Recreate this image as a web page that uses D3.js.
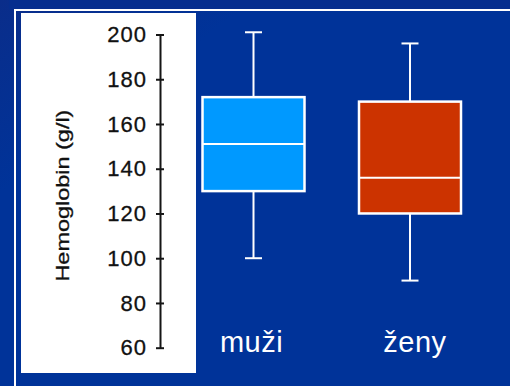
<!DOCTYPE html>
<html>
<head>
<meta charset="utf-8">
<script src="https://cdn.jsdelivr.net/npm/d3@7"></script>
<style>
  html, body { margin: 0; padding: 0; background: #003399; }
  svg { display: block; }
</style>
</head>
<body>
<script>
// data
const groups = ['muži', 'ženy'];
const mins = [100, 90];
const q1s = [130, 120];
const medians = [151, 136];
const q3s = [172, 170];
const maxs = [201, 196];
const tickValues = [60, 80, 100, 120, 140, 160, 180, 200];
const yLabel = 'Hemoglobin (g/l)';
const boxColours = ['#0099ff', '#cc3300'];

const width = 510;
const height = 386;

const svg = d3.select('body')
    .append('svg')
        .attr('width', width)
        .attr('height', height);

// background with slightly darker top band
const defs = svg.append('defs');
const grad = defs.append('linearGradient')
    .attr('id', 'bg')
    .attr('x1', 0).attr('y1', 0).attr('x2', 0.25).attr('y2', 0.25);
grad.append('stop').attr('offset', '0%').attr('stop-color', '#0a2d8a');
grad.append('stop').attr('offset', '100%').attr('stop-color', '#003399');

svg.append('rect')
    .attr('width', width)
    .attr('height', height)
    .attr('fill', 'url(#bg)');

svg.append('rect')
    .attr('x', 9)
    .attr('y', 0)
    .attr('width', width)
    .attr('height', 9)
    .attr('fill', '#062e8e');

// white outer frame line
svg.append('path')
    .attr('d', `M15,${height + 5} V10 H${width + 5}`)
    .attr('fill', 'none')
    .attr('stroke', '#ffffff')
    .attr('stroke-width', 2);

// white panel behind the axis
svg.append('rect')
    .attr('x', 21)
    .attr('y', 13)
    .attr('width', 175)
    .attr('height', 360)
    .attr('fill', '#ffffff');

// scales
const yScale = d3.scaleLinear()
    .domain([60, 200])
    .range([347.7, 34.5]);

const xScale = d3.scalePoint()
    .domain(groups)
    .range([253.5, 410]);

const boxWidth = 102;
const capWidth = 17;

// y axis
const axisG = svg.append('g')
    .attr('transform', 'translate(160, 0)')
    .call(d3.axisLeft(yScale)
        .tickValues(tickValues)
        .tickSizeOuter(0)
        .tickPadding(7));

axisG.select('.domain')
    .attr('stroke', '#151515')
    .attr('stroke-width', 2);

axisG.selectAll('.tick line')
    .attr('x1', -4)
    .attr('x2', 4)
    .attr('stroke', '#151515')
    .attr('stroke-width', 2);

axisG.selectAll('.tick text')
    .attr('fill', '#111')
    .attr('stroke', '#111')
    .attr('stroke-width', 0.3)
    .style('font-family', '"Liberation Sans", Arial, sans-serif')
    .style('font-size', '22px')
    .style('letter-spacing', '1px');

svg.append('text')
    .attr('transform', `translate(69, ${yScale(128)}) rotate(-90)`)
    .attr('text-anchor', 'middle')
    .attr('fill', '#111')
    .attr('stroke', '#111')
    .attr('stroke-width', 0.3)
    .attr('textLength', 172)
    .attr('lengthAdjust', 'spacingAndGlyphs')
    .style('font-family', '"Liberation Sans", Arial, sans-serif')
    .style('font-size', '19px')
    .text(yLabel);

// box plots
const boxData = groups.map((g, i) => ({
    group: g,
    min: mins[i],
    q1: q1s[i],
    median: medians[i],
    q3: q3s[i],
    max: maxs[i],
    colour: boxColours[i]
}));

const boxes = svg.selectAll('g.box')
    .data(boxData)
    .enter()
        .append('g')
            .attr('class', 'box')
            .attr('transform', (d) => `translate(${xScale(d.group)}, 0)`);

boxes.append('line')
    .attr('x1', 0).attr('x2', 0)
    .attr('y1', (d) => yScale(d.max))
    .attr('y2', (d) => yScale(d.q3))
    .attr('stroke', '#ffffff')
    .attr('stroke-width', 2);

boxes.append('line')
    .attr('x1', 0).attr('x2', 0)
    .attr('y1', (d) => yScale(d.q1))
    .attr('y2', (d) => yScale(d.min))
    .attr('stroke', '#ffffff')
    .attr('stroke-width', 2);

boxes.selectAll('line.cap')
    .data((d) => [d.min, d.max])
    .enter()
        .append('line')
            .attr('class', 'cap')
            .attr('x1', -capWidth / 2)
            .attr('x2', capWidth / 2)
            .attr('y1', (v) => yScale(v))
            .attr('y2', (v) => yScale(v))
            .attr('stroke', '#ffffff')
            .attr('stroke-width', 2);

boxes.append('rect')
    .attr('x', -boxWidth / 2)
    .attr('y', (d) => yScale(d.q3))
    .attr('width', boxWidth)
    .attr('height', (d) => yScale(d.q1) - yScale(d.q3))
    .attr('fill', (d) => d.colour)
    .attr('stroke', '#ffffff')
    .attr('stroke-width', 2.5);

boxes.append('line')
    .attr('x1', -boxWidth / 2)
    .attr('x2', boxWidth / 2)
    .attr('y1', (d) => yScale(d.median))
    .attr('y2', (d) => yScale(d.median))
    .attr('stroke', '#ffffff')
    .attr('stroke-width', 2);

// category labels
svg.selectAll('text.cat')
    .data(groups)
    .enter()
        .append('text')
            .attr('class', 'cat')
            .attr('x', (d, i) => xScale(d) + (i === 0 ? -2 : 5))
            .attr('y', 352)
            .attr('text-anchor', 'middle')
            .attr('fill', '#ffffff')
            .style('font-family', '"Liberation Sans", Arial, sans-serif')
            .style('font-size', '29px')
            .style('letter-spacing', '0.5px')
            .text((d) => d);
</script>
</body>
</html>
